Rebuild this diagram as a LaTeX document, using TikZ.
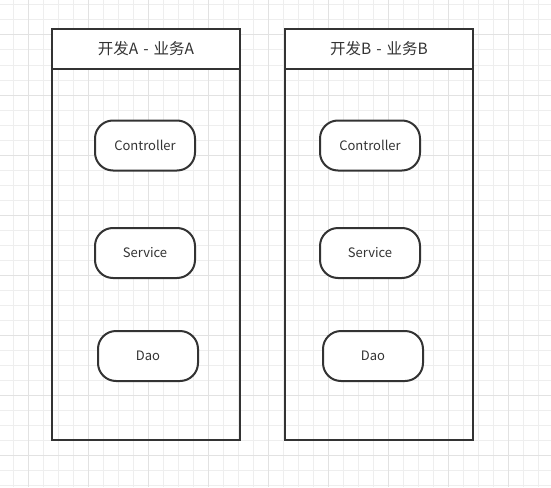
\documentclass[tikz,border=0pt]{standalone}
\usepackage{fontspec}
\setmainfont{Noto Sans CJK SC}
\definecolor{ink}{HTML}{333333}
\definecolor{gridminor}{HTML}{EEEEEE}
\definecolor{gridmajor}{HTML}{E2E2E2}
\tikzset{
  frame/.style={draw=ink, line width=2pt},
  comp/.style={draw=ink, line width=2pt, fill=white, rounded corners=18pt,
    minimum width=100pt, minimum height=50pt, inner sep=0pt,
    text=ink, font=\fontsize{13}{15}\selectfont},
  title/.style={text=ink, inner sep=0pt, font=\fontsize{15.5}{17}\selectfont},
}
\newcommand{\gapsp}{\hspace{5pt}}
\begin{document}
\begin{tikzpicture}[x=1pt,y=-1pt]
\useasboundingbox (0,0) rectangle (551,487);
\fill[white] (0,0) rectangle (551,487);
% grid
\foreach \i in {0,...,36} {\draw[gridminor, line width=1pt] ({13+15*\i},0) -- ({13+15*\i},487);}
\foreach \i in {0,...,32} {\draw[gridminor, line width=1pt] (0,{5+15*\i}) -- (551,{5+15*\i});}
\foreach \i in {0,...,8} {\draw[gridmajor, line width=1pt] ({28+60*\i},0) -- ({28+60*\i},487);}
\foreach \i in {0,...,7} {\draw[gridmajor, line width=1pt] (0,{35+60*\i}) -- (551,{35+60*\i});}
% frames
\fill[white] (52,29) rectangle (240,68.5);
\fill[white] (285,29) rectangle (473,68.5);
\coordinate (aTL) at (52,29); \coordinate (aBR) at (240,440);
\coordinate (aHL) at (52,68.5); \coordinate (aHR) at (240,68.5);
\coordinate (bTL) at (285,29); \coordinate (bBR) at (473,440);
\coordinate (bHL) at (285,68.5); \coordinate (bHR) at (473,68.5);
\draw[frame] (aTL) rectangle (aBR);
\draw[frame] (aHL) -- (aHR);
\draw[frame] (bTL) rectangle (bBR);
\draw[frame] (bHL) -- (bHR);
\node[title] (titleA) at (146,48.5) {开发A\gapsp{}-\gapsp{}业务A};
\node[title] (titleB) at (379,48.5) {开发B\gapsp{}-\gapsp{}业务B};
% components
\node[comp] (ctrlA) at (145,145.5) {Controller};
\node[comp] (servA) at (145,253) {Service};
\node[comp] (daoA) at (148,356) {Dao};
\node[comp] (ctrlB) at (370,145.5) {Controller};
\node[comp] (servB) at (370,253) {Service};
\node[comp] (daoB) at (373,356) {Dao};
\end{tikzpicture}
\end{document}
